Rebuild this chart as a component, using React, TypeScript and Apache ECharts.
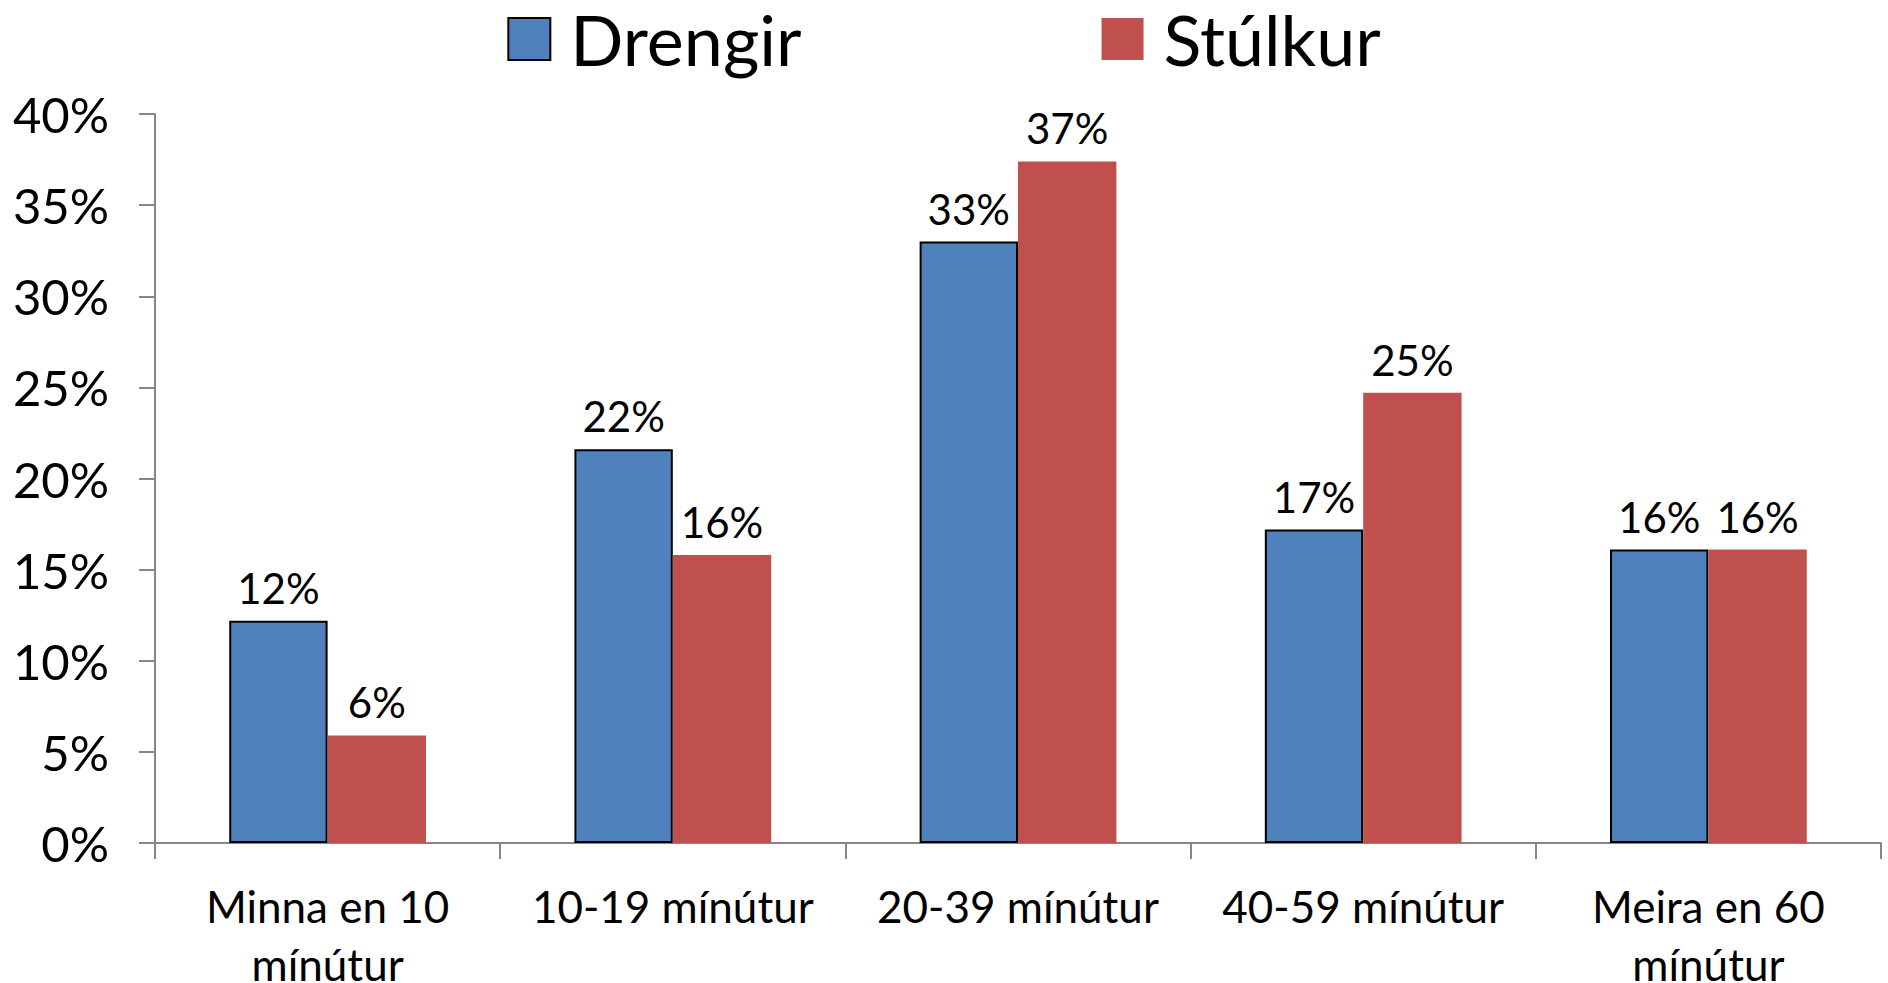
import React, { useEffect, useRef } from "react";
import * as echarts from "echarts";

const categories = ["Minna en 10 mínútur", "10-19 mínútur", "20-39 mínútur", "40-59 mínútur", "Meira en 60 mínútur"];
const seriesNames = ["Drengir", "Stúlkur"];
const drengir = [12.2, 21.6, 33.0, 17.2, 16.1];
const stulkur = [5.9, 15.8, 37.4, 24.7, 16.1];
const yTicks = [0, 5, 10, 15, 20, 25, 30, 35, 40];

const FONT = "Lato";

export default function App() {
  const ref = useRef<HTMLDivElement>(null);
  useEffect(() => {
    document.body.style.margin = "0";
    if (!ref.current) return;
    const chart = echarts.init(ref.current, null, { renderer: "svg" });
    const labelCfg = {
      show: true,
      position: "top",
      distance: 12,
      color: "#000",
      fontFamily: FONT,
      fontSize: 42,
      formatter: (p: any) => Math.round(p.value) + "%",
    };
    chart.setOption({
      animation: false,
      textStyle: { fontFamily: FONT },
      legend: {
        top: 4,
        left: "center",
        padding: 0,
        itemWidth: 42,
        itemHeight: 42,
        itemGap: 300,
        icon: "rect",
        textStyle: { fontFamily: FONT, fontSize: 70, lineHeight: 70, color: "#000", padding: [0, 0, 0, 15] },
        data: seriesNames,
      },
      grid: { left: 155, right: 7, top: 114, bottom: 140, containLabel: false, outerBoundsMode: "none" },
      xAxis: {
        type: "category",
        data: categories,
        axisLine: { lineStyle: { color: "#868686", width: 2 } },
        axisTick: { show: true, length: 16, lineStyle: { color: "#868686", width: 2 } },
        axisLabel: {
          color: "#000",
          fontFamily: FONT,
          fontSize: 44,
          lineHeight: 58,
          margin: 34,
          interval: 0,
          formatter: (s: string) => (s.length > 14 ? s.replace(/ (mínútur)$/, "\n$1") : s),
        },
      },
      yAxis: {
        type: "value",
        min: yTicks[0],
        max: yTicks[yTicks.length - 1],
        interval: 5,
        splitLine: { show: false },
        axisLine: { show: true, lineStyle: { color: "#868686", width: 2 } },
        axisTick: { show: true, length: 16, lineStyle: { color: "#868686", width: 2 } },
        axisLabel: {
          color: "#000",
          fontFamily: FONT,
          fontSize: 49,
          margin: 46,
          formatter: (v: number) => v + "%",
        },
      },
      series: [
        {
          name: seriesNames[0],
          type: "bar",
          data: drengir,
          barGap: "0%",
          barCategoryGap: "43%",
          itemStyle: { color: "#4F81BD", borderColor: "#000", borderWidth: 2 },
          label: labelCfg,
        },
        {
          name: seriesNames[1],
          type: "bar",
          data: stulkur,
          itemStyle: { color: "#C0504D" },
          label: labelCfg,
        },
      ],
    });
    return () => chart.dispose();
  }, []);
  return <div ref={ref} style={{ width: 1888, height: 983 }} />;
}
